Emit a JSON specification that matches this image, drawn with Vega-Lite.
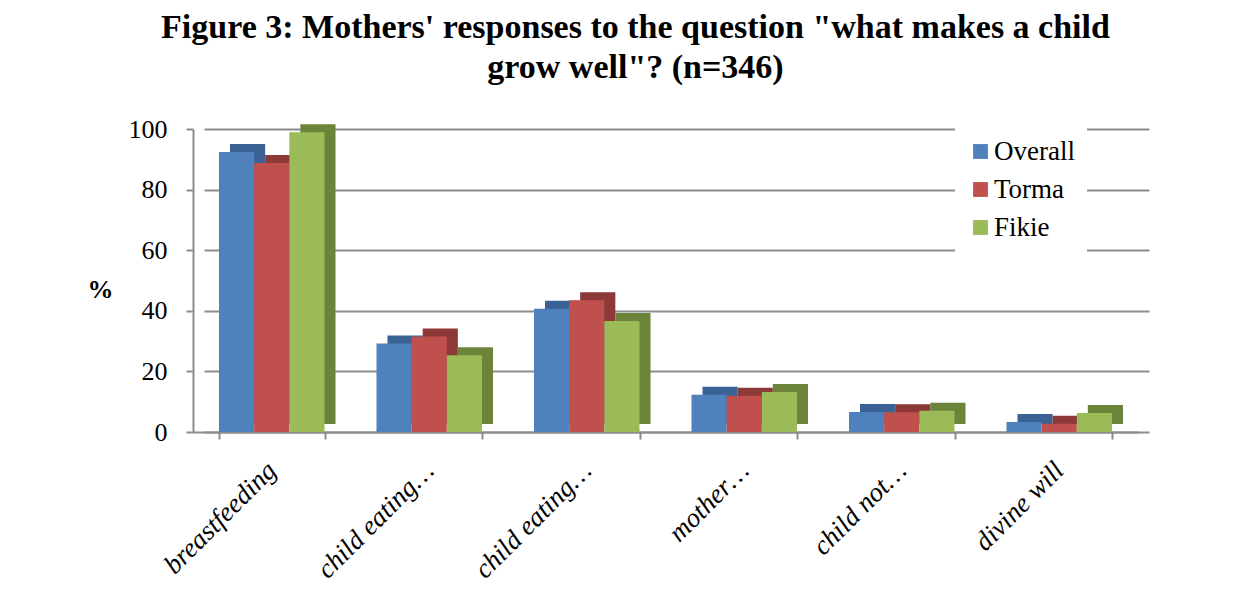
{
  "$schema": "https://vega.github.io/schema/vega-lite/v6.json",
  "width": 945,
  "height": 303,
  "autosize": "none",
  "padding": {"left": 193, "top": 129, "right": 122, "bottom": 168},
  "background": "white",
  "title": {
    "text": ["Figure 3: Mothers' responses to the question \"what makes a child", "grow well\"? (n=346)"],
    "font": "Liberation Serif",
    "fontSize": 34,
    "fontWeight": "bold",
    "color": "black",
    "anchor": "middle",
    "frame": "group",
    "dx": -30,
    "lineHeight": 40,
    "offset": 31
  },
  "data": {
    "values": [
      {"category": "breastfeeding", "series": "Overall", "value": 92.4},
      {"category": "breastfeeding", "series": "Torma", "value": 88.8},
      {"category": "breastfeeding", "series": "Fikie", "value": 98.9},
      {"category": "child eating…", "series": "Overall", "value": 29.2},
      {"category": "child eating…", "series": "Torma", "value": 31.5},
      {"category": "child eating…", "series": "Fikie", "value": 25.3},
      {"category": " child eating…", "series": "Overall", "value": 40.7},
      {"category": " child eating…", "series": "Torma", "value": 43.5},
      {"category": " child eating…", "series": "Fikie", "value": 36.6},
      {"category": "mother…", "series": "Overall", "value": 12.3},
      {"category": "mother…", "series": "Torma", "value": 12.0},
      {"category": "mother…", "series": "Fikie", "value": 13.2},
      {"category": "child not…", "series": "Overall", "value": 6.6},
      {"category": "child not…", "series": "Torma", "value": 6.5},
      {"category": "child not…", "series": "Fikie", "value": 7.0},
      {"category": "divine will", "series": "Overall", "value": 3.3},
      {"category": "divine will", "series": "Torma", "value": 2.7},
      {"category": "divine will", "series": "Fikie", "value": 6.3}
    ]
  },
  "encoding": {
    "xOffset": {"field": "series", "type": "nominal", "sort": ["Overall", "Torma", "Fikie"], "scale": {"paddingInner": 0, "paddingOuter": 0}},
    "y": {
      "field": "value",
      "type": "quantitative",
      "scale": {"domain": [0, 100], "nice": false},
      "axis": {
        "title": "%",
        "titleAngle": 0,
        "titleFont": "Liberation Serif",
        "titleFontSize": 26,
        "titleFontWeight": "bold",
        "titleColor": "black",
        "titleX": -93,
        "titleY": 160,
        "titleAlign": "center",
        "titleBaseline": "middle",
        "values": [0, 20, 40, 60, 80, 100],
        "labelFont": "Liberation Serif",
        "labelFontSize": 26,
        "labelColor": "black",
        "labelPadding": 19,
        "domainColor": "#8c8c8c",
        "domainWidth": 2,
        "tickColor": "#8c8c8c",
        "tickWidth": 2,
        "tickSize": 7,
        "grid": true,
        "gridColor": "#8c8c8c",
        "gridWidth": 2
      }
    }
  },
  "layer": [
    {
      "mark": {"type": "bar", "yOffset": -8},
      "encoding": {
        "x": {
          "field": "category",
          "type": "nominal",
          "sort": null,
          "scale": {"paddingInner": 0.33, "paddingOuter": 0.165, "range": [11, 956]},
          "axis": null
        },
        "fill": {
          "field": "series",
          "type": "nominal",
          "scale": {"domain": ["Overall", "Torma", "Fikie"], "range": ["#3b6295", "#8d3937", "#6b8439"]},
          "legend": null
        }
      }
    },
    {
      "mark": {"type": "bar"},
      "encoding": {
        "x": {
          "field": "category",
          "type": "nominal",
          "sort": null,
          "scale": {"paddingInner": 0.33, "paddingOuter": 0.165},
          "axis": {
            "title": null,
            "labelAngle": -45,
            "labelFont": "Liberation Serif",
            "labelFontStyle": "italic",
            "labelFontSize": 27,
            "labelColor": "black",
            "labelPadding": 27,
            "labelAlign": "right",
            "labelBaseline": "middle",
            "domainColor": "#8c8c8c",
            "domainWidth": 2,
            "tickColor": "#8c8c8c",
            "tickWidth": 2,
            "tickSize": 7,
            "tickBand": "extent",
            "grid": false
          }
        },
        "color": {
          "field": "series",
          "type": "nominal",
          "scale": {"domain": ["Overall", "Torma", "Fikie"], "range": ["#4f81bd", "#c0504d", "#9bbb59"]},
          "legend": {
            "title": null,
            "orient": "none",
            "legendX": 762,
            "legendY": -3,
            "padding": 12,
            "fillColor": "white",
            "symbolType": "square",
            "symbolSize": 220,
            "symbolStrokeWidth": 0,
            "labelFont": "Liberation Serif",
            "labelFontSize": 27,
            "labelColor": "black",
            "labelOffset": 0,
            "rowPadding": 10
          }
        }
      }
    }
  ],
  "resolve": {"scale": {"fill": "independent", "x": "independent", "xOffset": "independent"}},
  "config": {
    "view": {"stroke": null}
  }
}
